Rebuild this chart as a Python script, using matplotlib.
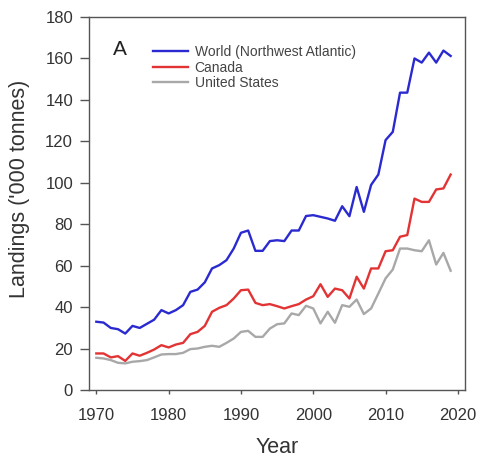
import matplotlib
matplotlib.use('Agg')
import matplotlib.pyplot as plt

plt.rcParams['font.family'] = ['Liberation Sans', 'DejaVu Sans']

years = list(range(1970, 2020))

world = [33, 32.6, 30, 29.4, 27.3, 31, 30, 32, 34, 38.6,
         37, 38.6, 41, 47.4, 48.5, 52, 58.7, 60.3, 62.7, 68.3,
         75.9, 77, 67.2, 67.2, 71.9, 72.3, 71.9, 77, 77, 84,
         84.4, 83.6, 82.8, 81.7, 88.7, 83.9, 98, 86, 99, 104,
         120.6, 124.6, 143.5, 143.5, 160, 158, 162.8, 158, 163.8, 161.2]

canada = [17.7, 17.7, 15.8, 16.4, 14.1, 17.7, 16.6, 18, 19.6, 21.7,
          20.6, 22, 22.8, 27, 28.1, 31, 37.8, 39.7, 41, 44.2,
          48.2, 48.5, 42.1, 41, 41.5, 40.5, 39.4, 40.5, 41.5, 43.7,
          45.3, 51.1, 45, 49, 48.2, 44.2, 54.7, 49, 58.7, 58.7,
          67, 67.5, 74, 74.8, 92.4, 90.8, 90.8, 96.8, 97.3, 104]

usa = [15.6, 15.3, 14.5, 13.2, 12.9, 13.7, 14, 14.5, 15.8, 17.2,
       17.4, 17.4, 18, 19.8, 20.1, 20.9, 21.4, 20.9, 22.8, 24.9,
       28.1, 28.6, 25.7, 25.7, 29.7, 31.8, 32.2, 37, 36.2, 40.7,
       39.4, 32.2, 37.8, 32.5, 41, 40.2, 43.7, 36.7, 39.4, 46.6,
       53.9, 58.2, 68.3, 68.3, 67.5, 67, 72.3, 60.6, 66.2, 57.6]

labels = ['World (Northwest Atlantic)', 'Canada', 'United States']
colors = ['#2a2ad0', '#e23434', '#a8a8a8']
xticks = [1970, 1980, 1990, 2000, 2010, 2020]
yticks = list(range(0, 181, 20))

fig = plt.figure(figsize=(4.79, 4.59), dpi=100)
ax = fig.add_axes([0.186, 0.150, 0.785, 0.813])

for series, lab, col in zip([world, canada, usa], labels, colors):
    ax.plot(years, series, color=col, lw=1.7, label=lab)

ax.set_xlim(1969, 2021)
ax.set_ylim(0, 180)
ax.set_xticks(xticks)
ax.set_yticks(yticks)

for sp in ax.spines.values():
    sp.set_color('#555555')
    sp.set_linewidth(1.0)
ax.tick_params(direction='out', width=1.0, color='#555555',
               labelsize=12, labelcolor='#333333')
ax.tick_params(axis='y', length=6.5, pad=5)
ax.tick_params(axis='x', length=3, pad=10)

# axis titles placed by hand to sit where the original has them
ax.set_xlabel('Year', fontsize=15.5, color='#333333')
ax.set_ylabel("Landings ('000 tonnes)", fontsize=15.5, color='#333333')
ax.xaxis.set_label_coords(0.5, -0.125)
ax.yaxis.set_label_coords(-0.157, 0.54)

ax.text(0.063, 0.912, 'A', transform=ax.transAxes, fontsize=15,
        color='#222222', ha='left', va='center')

leg = ax.legend(loc='upper left', bbox_to_anchor=(0.155, 0.94), frameon=False,
                fontsize=10, handlelength=2.5, handletextpad=0.5,
                labelspacing=0.12, borderaxespad=0)
for t in leg.get_texts():
    t.set_color('#444444')

fig.savefig('out.png', dpi=100)
